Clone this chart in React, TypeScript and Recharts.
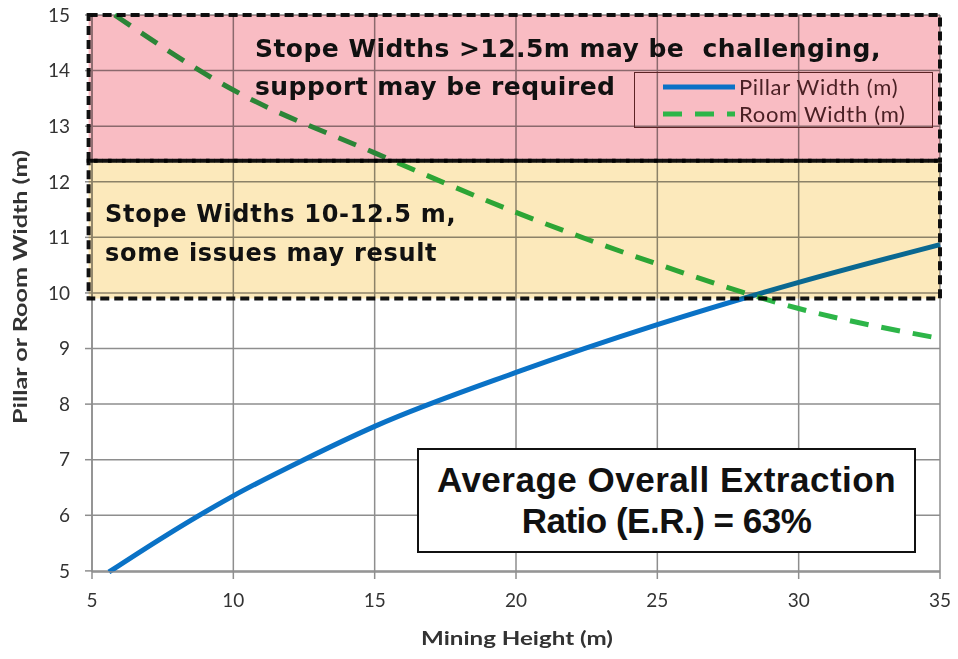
import React from 'react'
import {
  LineChart,
  Line,
  XAxis,
  YAxis,
  CartesianGrid,
  ReferenceArea,
  Legend,
} from 'recharts'

// values
const pillarHeights = [5.6, 7.5, 10, 12.5, 15, 20, 25, 30, 35]
const pillarWidths = [4.98, 5.6, 6.35, 7.0, 7.6, 8.57, 9.43, 10.19, 10.87]

const roomHeights = [5.8, 10, 15, 20, 25, 30, 35]
const roomWidths = [15.0, 13.65, 12.52, 11.45, 10.52, 9.72, 9.18]

const xTicks = [5, 10, 15, 20, 25, 30, 35]
const yTicks = [5, 6, 7, 8, 9, 10, 11, 12, 13, 14, 15]

// stope width zones (y range, m)
const redZone = { from: 12.38, to: 15 }
const yellowZone = { from: 9.9, to: 12.38 }

const pillarData = pillarHeights.map((x, i) => ({ x, y: pillarWidths[i] }))
const roomData = roomHeights.map((x, i) => ({ x, y: roomWidths[i] }))

const W = 958
const H = 659

const PILLAR = '#0a72c6'
const ROOM = '#2db548'

function ZoneBox(props: any) {
  const { x, y, width, height, fill } = props
  return (
    <rect
      x={x}
      y={y}
      width={width}
      height={height}
      fill={fill}
      stroke="#111"
      strokeWidth={4}
      strokeDasharray="9 5"
      style={{ mixBlendMode: 'multiply' }}
    />
  )
}

function LegendBox(props: any) {
  const items = props.payload || []
  return (
    <div
      style={{
        width: 299,
        height: 56,
        boxSizing: 'border-box',
        border: '1.5px solid #5c2325',
        fontFamily: 'Lato, sans-serif',
        fontSize: 22,
        letterSpacing: 0.7,
        color: '#4a2024',
      }}
    >
      {items.map((it: any) => (
        <div key={it.value} style={{ display: 'flex', alignItems: 'center', height: 27 }}>
          <svg width={76} height={10} style={{ marginLeft: 28 }}>
            <line
              x1={0}
              x2={72}
              y1={5}
              y2={5}
              stroke={it.color}
              strokeWidth={5}
              strokeDasharray={it.payload?.strokeDasharray}
            />
          </svg>
          <span style={{ marginLeft: 0 }}>{it.value}</span>
        </div>
      ))}
    </div>
  )
}

const boxText: React.CSSProperties = {
  position: 'absolute',
  fontFamily: '"DejaVu Sans", Verdana, sans-serif',
  fontWeight: 700,
  color: '#111',
  whiteSpace: 'pre',
  lineHeight: 1,
}

export default function App() {
  return (
    <div style={{ position: 'absolute', left: 0, top: 0, width: W, height: H, background: '#fff', fontFamily: 'Lato, sans-serif' }}>
      <LineChart width={W} height={H} margin={{ top: 15, right: 18, bottom: 0, left: 0 }}>
        <CartesianGrid stroke="#8e8e8e" strokeWidth={1.5} horizontalValues={yTicks} verticalValues={xTicks} />
        <XAxis
          type="number"
          dataKey="x"
          domain={[5, 35]}
          ticks={xTicks}
          height={87}
          tick={{ fontSize: 19, fill: '#333' }}
          tickSize={7}
          tickMargin={15}
          axisLine={{ stroke: '#8e8e8e', strokeWidth: 1.5 }}
          tickLine={{ stroke: '#8e8e8e', strokeWidth: 1.5 }}
          label={{
            content: () => (
              <text
                x={517}
                y={645}
                textAnchor="middle"
                fontSize={19}
                fontWeight={700}
                fill="#333"
                textLength={192}
                lengthAdjust="spacingAndGlyphs"
              >
                Mining Height (m)
              </text>
            ),
          }}
        />
        <YAxis
          type="number"
          dataKey="y"
          domain={[5, 15]}
          ticks={yTicks}
          width={92}
          tick={{ fontSize: 19, fill: '#333' }}
          tickSize={7}
          tickMargin={15}
          axisLine={{ stroke: '#8e8e8e', strokeWidth: 1.5 }}
          tickLine={{ stroke: '#8e8e8e', strokeWidth: 1.5 }}
          label={{
            content: () => (
              <text
                x={27}
                y={287}
                textAnchor="middle"
                fontSize={18}
                fontWeight={700}
                fill="#333"
                textLength={274}
                lengthAdjust="spacingAndGlyphs"
                transform="rotate(-90 27 287)"
              >
                Pillar or Room Width (m)
              </text>
            ),
          }}
        />
        <Line
          data={pillarData}
          dataKey="y"
          name="Pillar Width (m)"
          type="monotone"
          stroke={PILLAR}
          strokeWidth={5}
          dot={false}
          isAnimationActive={false}
        />
        <Line
          data={roomData}
          dataKey="y"
          name="Room Width (m)"
          type="monotone"
          stroke={ROOM}
          strokeWidth={5}
          strokeDasharray="19 13"
          dot={false}
          isAnimationActive={false}
        />
        <ReferenceArea
          x1={4.88}
          x2={35}
          y1={redZone.from}
          y2={redZone.to}
          fill="#f9bcc3"
          ifOverflow="visible"
          shape={ZoneBox}
          zIndex={600}
        />
        <ReferenceArea
          x1={4.88}
          x2={35}
          y1={yellowZone.from}
          y2={yellowZone.to}
          fill="#fce9bb"
          ifOverflow="visible"
          shape={ZoneBox}
          zIndex={600}
        />
        <Legend
          layout="vertical"
          align="center"
          verticalAlign="middle"
          content={LegendBox}
          wrapperStyle={{ position: 'absolute', left: 634, top: 72, width: 299, height: 56, zIndex: 5 }}
        />
      </LineChart>

      <div style={{ ...boxText, left: 255, top: 36, fontSize: 25, letterSpacing: 0.45 }}>Stope Widths {'>'}12.5m may be  challenging,</div>
      <div style={{ ...boxText, left: 255, top: 74, fontSize: 25, letterSpacing: 0.45 }}>support may be required</div>
      <div style={{ ...boxText, left: 105, top: 202, fontSize: 24, letterSpacing: 0.7 }}>Stope Widths 10-12.5 m,</div>
      <div style={{ ...boxText, left: 105, top: 241, fontSize: 24, letterSpacing: 0.7 }}>some issues may result</div>

      <div
        style={{
          position: 'absolute',
          left: 417,
          top: 448,
          width: 499,
          height: 105,
          boxSizing: 'border-box',
          border: '2px solid #111',
          background: '#fff',
          fontFamily: '"Liberation Sans", Arial, sans-serif',
          fontWeight: 700,
          fontSize: 35,
          color: '#111',
          textAlign: 'center',
          lineHeight: '41px',
          paddingTop: 9,
        }}
      >
        <div style={{ letterSpacing: 0.5 }}>Average Overall Extraction</div>
        <div style={{ letterSpacing: -0.5 }}>Ratio (E.R.) = 63%</div>
      </div>
    </div>
  )
}
